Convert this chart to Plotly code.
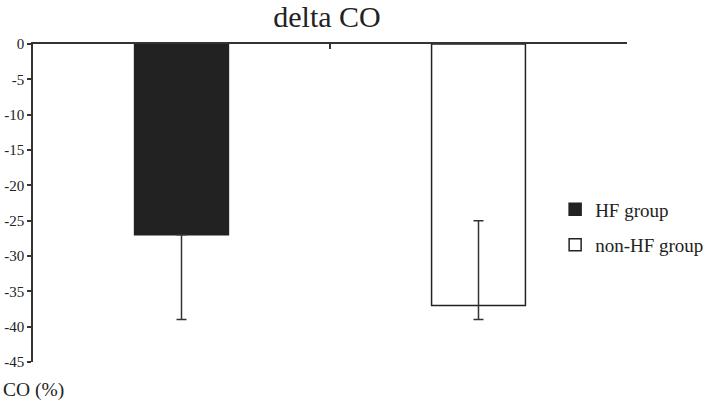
import plotly.graph_objects as go

# données
groups = ["HF group", "non-HF group"]
delta_co = [-27, -37]
err_plus = [0, 12]
err_minus = [12, 2]
fill_colors = ["#222222", "#ffffff"]
y_ticks = [0, -5, -10, -15, -20, -25, -30, -35, -40, -45]
y_tick_labels = ["0", "-5", "-10", "-15", "-20", "-25", "-30", "-35", "-40", "-45"]

font_family = "Liberation Serif"
ink = "#333333"

fig = go.Figure()

for i, name in enumerate(groups):
    fig.add_trace(go.Bar(
        x=[name],
        y=[delta_co[i]],
        name=name,
        width=0.316,
        marker=dict(color=fill_colors[i], line=dict(color="#222222", width=1.5)),
        error_y=dict(type="data", symmetric=False,
                     array=[err_plus[i]], arrayminus=[err_minus[i]],
                     color=ink, thickness=1.5, width=5),
        legendgroup=name,
    ))

fig.update_layout(
    width=709, height=401,
    # autoexpand=False : la légende ne doit pas rétrécir la zone de tracé
    margin=dict(l=33, r=82, t=44, b=39, autoexpand=False),
    paper_bgcolor="white", plot_bgcolor="white",
    barmode="overlay",
    font=dict(family=font_family, color="#222222", size=15),
    title=dict(text="delta CO", x=327 / 709, xanchor="center",
               y=1 - 16 / 401, yanchor="middle",
               font=dict(size=30, family=font_family, color="#222222")),
    legend=dict(x=0.879, y=0.54, xanchor="left", yanchor="top",
                font=dict(size=19, family=font_family, color="#222222"),
                tracegroupgap=8, bgcolor="rgba(0,0,0,0)"),
    annotations=[dict(text="CO (%)", xref="paper", yref="paper",
                      x=-32 / 594, y=-28 / 318, xanchor="left", yanchor="middle",
                      showarrow=False,
                      font=dict(size=19.5, family=font_family, color="#222222"))],
)

fig.update_xaxes(
    type="category", range=[-0.5, 1.5], side="top", automargin=False,
    showline=True, linecolor=ink, linewidth=1.5,
    ticks="inside", tickson="boundaries", ticklen=5, tickcolor=ink, tickwidth=1.5,
    showticklabels=False, showgrid=False, zeroline=False,
)
fig.update_yaxes(
    range=[-45, 0], tickvals=y_ticks, ticktext=y_tick_labels, automargin=False,
    showline=True, linecolor=ink, linewidth=1.5,
    ticks="outside", ticklen=4, tickcolor=ink, tickwidth=1.5,
    showgrid=False, zeroline=False,
    tickfont=dict(size=15, family=font_family, color="#222222"),
)

# la page HTML a une marge de 8px par défaut : on la retire
fig.write_html("out.html", config={"displayModeBar": False},
               post_script="document.body.style.margin='0';")
